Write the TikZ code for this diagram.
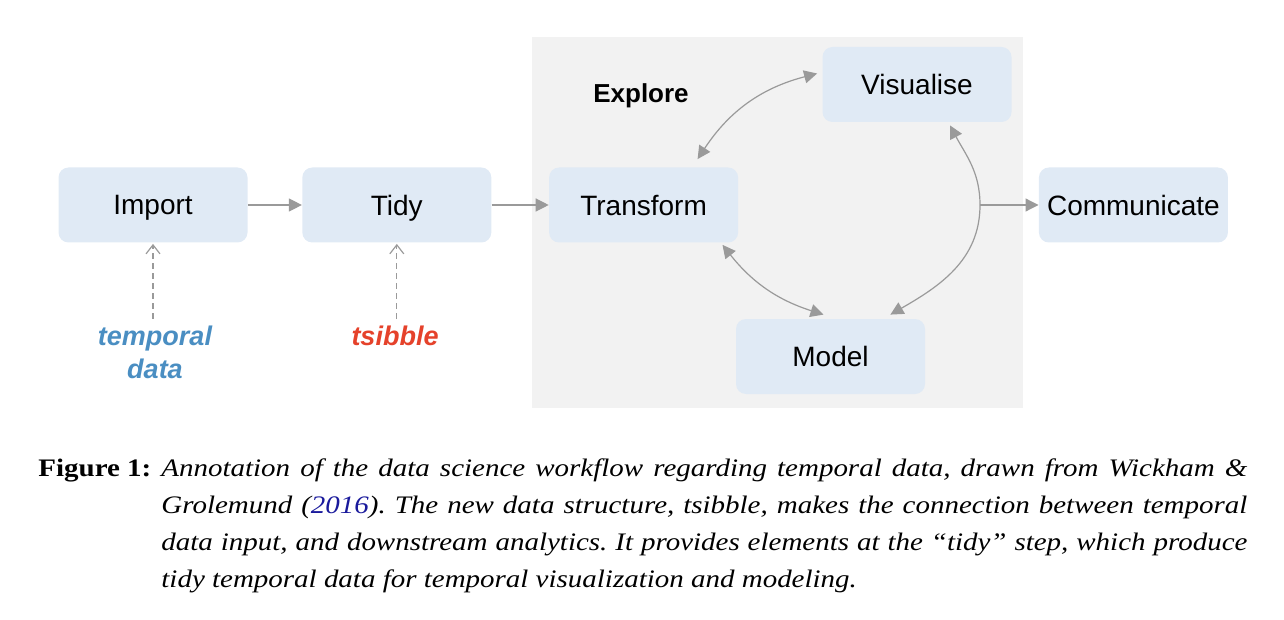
\documentclass[tikz,border=0pt]{standalone}
\usepackage{fontspec}
\setmainfont{Liberation Serif}[FakeStretch=1.15]
\setsansfont{Liberation Sans}
\usetikzlibrary{arrows.meta, positioning}

\definecolor{boxblue}{HTML}{E0EAF5}
\definecolor{bggray}{HTML}{F2F2F2}
\definecolor{arrgray}{HTML}{9A9A9A}
\definecolor{tdblue}{HTML}{4A8EC2}
\definecolor{tsred}{HTML}{E5422B}
\definecolor{citeblue}{HTML}{1A1A9C}

\begin{document}
\frenchspacing
\begin{tikzpicture}[
  x=0.5pt, y=0.5pt,
  block/.style={fill=boxblue, rounded corners=5pt, minimum width=94.5pt, minimum height=37.5pt,
    text depth=0pt, font=\sffamily\fontsize{14}{16}\selectfont},
  flow/.style={draw=arrgray, line width=0.6pt, ->},
  both/.style={flow, <->},
  feed/.style={draw=arrgray, line width=0.6pt, dash pattern=on 3pt off 2pt,
    -{Straight Barb[length=4.5pt, width=7pt]}},
  note/.style={font=\sffamily\bfseries\itshape\fontsize{13.5}{16.5}\selectfont, align=center},
  capline/.style={anchor=base west, inner sep=0pt, font=\itshape\fontsize{12.6}{14}\selectfont},
  >={Triangle[length=6.5pt, width=6.5pt]}
]
\useasboundingbox (0,0) rectangle (1284,-620);

% Explore area
\fill[bggray] (532,-37) rectangle (1023,-408);
\node[font=\sffamily\bfseries\fontsize{13}{15}\selectfont, text depth=0pt] (explore) at (641,-93) {Explore};

% Nodes
\node[block] (imp) at (153,-205) {Import};            % reading data in
\node[block, right=27pt of imp] (tidy) {Tidy};          % tidying step
\node[block, right=28.5pt of tidy] (trans) {Transform}; % explore loop
\node[block] (vis) at (917,-84.5) {Visualise};
\node[block] (mod) at (830.5,-356.5) {Model};
\node[block, right=150pt of trans] (comm) {Communicate}; % final output
\coordinate (bulge) at (980,-205);                      % where the loop meets the output arrow

% Annotations
\node[note, text=tdblue] (tdata) at (155,-352) {temporal\\data};
\node[note, text=tsred] (tsib) at (395,-336) {tsibble};

% Arrows
\draw[flow] (imp) -- (tidy);
\draw[flow] (tidy) -- (trans);
\draw[both] ([shift={(54,8)}]trans.north) to[bend left=21] ([shift={(-5,11)}]vis.west);
\draw[both] ([shift={(-16,-2)}]trans.south east) to[bend right=17] ([shift={(-7,4)}]mod.north);
\draw[both] ([shift={(33,-3)}]vis.south) to[out=-62, in=90] (bulge)
  to[out=-90, in=30] ([shift={(-35,4)}]mod.north east);
\draw[flow] (bulge) -- (comm);
\draw[feed, shorten >=0.5pt] (imp.south |- tdata.north) -- (imp.south);
\draw[feed, shorten >=0.5pt] (tidy.south |- tsib.north) -- (tidy.south);

% Caption
\node[anchor=base west, inner sep=0pt, font=\bfseries\fontsize{12.6}{14}\selectfont] (figlab) at (38,-476) {Figure 1:};
\node[capline] (cap1) at (161,-476) {\makebox[543pt][s]{Annotation of the data science workflow regarding temporal data, drawn from Wickham \&}};
\node[capline] (cap2) at (161,-513) {\makebox[543pt][s]{Grolemund (\textcolor{citeblue}{2016}). The new data structure, tsibble, makes the connection between temporal}};
\node[capline] (cap3) at (161,-550) {\makebox[543pt][s]{data input, and downstream analytics. It provides elements at the ``tidy'' step, which produce}};
\node[capline] (cap4) at (161,-587) {tidy temporal data for temporal visualization and modeling.};
\end{tikzpicture}
\end{document}
